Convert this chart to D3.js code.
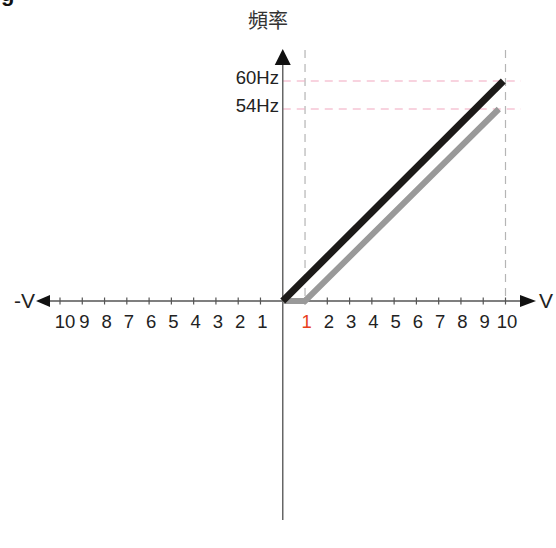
<!DOCTYPE html>
<html><head><meta charset="utf-8">
<script src="https://cdn.jsdelivr.net/npm/d3@7"></script>
<style>body{margin:0;background:#fff}svg{display:block}</style>
</head><body>
<svg id="c" width="556" height="548"></svg>
<script>
// Data
const xTicksPos = [1,2,3,4,5,6,7,8,9,10];
const xTicksNeg = [-10,-9,-8,-7,-6,-5,-4,-3,-2,-1];
const yTickValues = [60, 54];
const yTickLabels = ["60Hz", "54Hz"];
const vGuides = [1, 10];
const blackSeries = [[0,0],[9.9,60]];
const graySeries = [[0,0],[1,0],[9.7,54]];
const highlightTick = 1;

const svg = d3.select("#c");
const x = d3.scaleLinear().domain([-10,10]).range([60,505.5]);
const y = d3.scaleLinear().domain([0,54,60]).range([301,109,81]);
const x0 = x(0), y0 = y(0);
const font = "'Liberation Sans', Arial, sans-serif";

// clipped heading glyph top-left
svg.append("text").attr("x",1).attr("y",1).attr("font-family",font)
  .attr("font-weight","bold").attr("font-size",22).attr("fill","#111").text("g");

// guides
const g = svg.append("g");
g.selectAll(".vg").data(vGuides).join("line")
  .attr("x1",d=>x(d)).attr("x2",d=>x(d)).attr("y1",50).attr("y2",y0)
  .attr("stroke","#b5b5b5").attr("stroke-width",1.2).attr("stroke-dasharray","8,6");
g.selectAll(".hg").data(yTickValues).join("line")
  .attr("x1",x0).attr("x2",521).attr("y1",d=>y(d)).attr("y2",d=>y(d))
  .attr("stroke","#f2a7bf").attr("stroke-width",1.2).attr("stroke-dasharray","8,6");

// axes
svg.append("line").attr("x1",48).attr("x2",524).attr("y1",y0).attr("y2",y0)
  .attr("stroke","#555").attr("stroke-width",1.5);
svg.append("line").attr("x1",x0).attr("x2",x0).attr("y1",62).attr("y2",520)
  .attr("stroke","#666").attr("stroke-width",1.5);
// arrows
svg.append("path").attr("d",`M536,${y0} L520,${y0-6} L520,${y0+6} Z`).attr("fill","#111");
svg.append("path").attr("d",`M36,${y0} L50,${y0-6} L50,${y0+6} Z`).attr("fill","#111");
svg.append("path").attr("d",`M${x0},49 L${x0-8},65 L${x0+8},65 Z`).attr("fill","#111");

// ticks
const allTicks = xTicksNeg.concat(xTicksPos);
svg.selectAll(".tk").data(allTicks).join("line")
  .attr("x1",d=>x(d)).attr("x2",d=>x(d)).attr("y1",y0-3.5).attr("y2",y0+3.5)
  .attr("stroke","#555").attr("stroke-width",1.2);
svg.selectAll(".tl").data(allTicks).join("text")
  .attr("x",d=>x(d)+(d===-10?5:(d<0?2:1.5))).attr("y",328).attr("text-anchor","middle")
  .attr("font-family",font).attr("font-size",18.5)
  .attr("fill",d=>d===highlightTick?"#e8401c":"#222")
  .text(d=>Math.abs(d));

// y labels
svg.selectAll(".yl").data(yTickValues).join("text")
  .attr("x",279).attr("y",(d)=>y(d)+3).attr("text-anchor","end")
  .attr("font-family",font).attr("font-size",18.5).attr("fill","#222")
  .text((d,i)=>yTickLabels[i]);

// axis titles
svg.append("text").attr("x",268).attr("y",28).attr("text-anchor","middle")
  .attr("font-family","'Noto Sans CJK TC','Noto Sans CJK SC',sans-serif").attr("font-size",20)
  .attr("fill","#333").text("頻率");
svg.append("text").attr("x",539).attr("y",308).attr("font-family",font)
  .attr("font-size",21).attr("fill","#222").text("V");
svg.append("text").attr("x",35).attr("y",308).attr("text-anchor","end").attr("font-family",font)
  .attr("font-size",21).attr("fill","#222").text("-V");

// series
const line = d3.line().x(d=>x(d[0])).y(d=>y(d[1]));
svg.append("path").datum(graySeries).attr("d",line).attr("fill","none")
  .attr("stroke","#999").attr("stroke-width",6).attr("stroke-linejoin","miter");
svg.append("path").datum(blackSeries).attr("d",line).attr("fill","none")
  .attr("stroke","#1c1a18").attr("stroke-width",7);
</script>
</body></html>
